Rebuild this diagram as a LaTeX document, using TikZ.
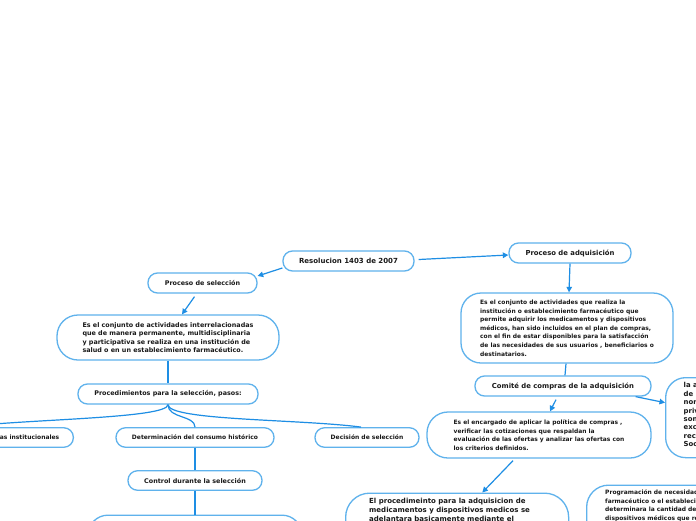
\documentclass[tikz,border=0pt]{standalone}
\usepackage{fontspec}
\setmainfont{DejaVu Sans}
\usetikzlibrary{arrows.meta}
\definecolor{boxblue}{RGB}{95,178,236}
\definecolor{lineblue}{RGB}{30,142,228}
\definecolor{txt}{RGB}{25,25,25}
\tikzset{
  pill/.style={draw=boxblue, line width=1.3pt, rounded corners=9.5pt, fill=white, inner sep=0pt,
    text=txt, font=\fontsize{6.4}{8}\selectfont\bfseries},
  bigbox/.style={draw=boxblue, line width=1.3pt, rounded corners=20pt, fill=white, inner sep=0pt,
    text=txt, font=\fontsize{6.4}{8.3}\selectfont\bfseries, align=left},
  smalldesc/.style={font=\fontsize{5.95}{8.6}\selectfont\bfseries},
  plaintext/.style={inner sep=0pt, text=txt, align=left, font=\fontsize{6.4}{8.3}\selectfont\bfseries},
  conn/.style={draw=lineblue, line width=1.2pt},
  arr/.style={conn, -{Triangle[length=5.5pt,width=5.5pt]}}
}
\begin{document}
\begin{tikzpicture}[x=1pt,y=-1pt]
\useasboundingbox (0,0) rectangle (696,520);
\clip (0,0) rectangle (696,520);
\fill[white] (0,0) rectangle (696,520);

% Left branch
\node[pill, minimum width=131pt, minimum height=20pt, font=\fontsize{7}{8}\selectfont\bfseries] (root) at (348.5,261) {Resolucion 1403 de 2007};
\node[pill, minimum width=109pt, minimum height=20pt] (sel) at (202.5,283) {Proceso de selección};
\node[bigbox, minimum width=222pt, minimum height=45pt, rounded corners=21pt] (desc1) at (168,337.5) {Es el conjunto de actividades interrelacionadas\\que de manera permanente, multidisciplinaria\\y participativa se realiza en una institución de\\salud o en un establecimiento farmacéutico.};
\node[pill, minimum width=180pt, minimum height=20pt] (proc) at (168,394) {Procedimientos para la selección, pasos:};
\node[pill, minimum width=160pt, minimum height=19.5pt, anchor=east] (pol) at (74,437.5) {};
\node[plaintext, anchor=east, font=\fontsize{6.0}{8}\selectfont\bfseries] (polt) at (59.5,437.5) {as institucionales};
\node[pill, minimum width=158pt, minimum height=19.5pt, font=\fontsize{6.0}{8}\selectfont\bfseries] (det) at (195,437.5) {Determinación del consumo histórico};
\node[pill, minimum width=104pt, minimum height=19.5pt, font=\fontsize{6.0}{8}\selectfont\bfseries] (dec) at (367,437.5) {Decisión de selección};
\node[pill, minimum width=134pt, minimum height=19.5pt] (ctrl) at (195,480.5) {Control durante la selección};
\node[bigbox, minimum width=214pt, minimum height=60pt, anchor=north] (bl) at (195,514.5) {};

% Right branch
\node[pill, minimum width=122pt, minimum height=20pt, font=\fontsize{6.85}{8}\selectfont\bfseries] (adq) at (570,253) {Proceso de adquisición};
\node[bigbox, smalldesc, minimum width=212pt, minimum height=70pt] (desc2) at (567,328) {Es el conjunto de actividades que realiza la\\institución o establecimiento farmacéutico que\\permite adquirir los medicamentos y dispositivos\\médicos, han sido incluidos en el plan de compras,\\con el fin de estar disponibles para la satisfacción\\de las necesidades de sus usuarios , beneficiarios o\\destinatarios.};
\node[pill, minimum width=176pt, minimum height=20pt, font=\fontsize{6.85}{8}\selectfont\bfseries] (com) at (563,386) {Comité de compras de la adquisición};
\node[bigbox, smalldesc, minimum width=224pt, minimum height=46pt, rounded corners=21pt] (enc) at (539,435) {Es el encargado de aplicar la política de compras ,\\verificar las cotizaciones que respaldan la\\evaluación de las ofertas y analizar las ofertas con\\los criterios definidos.};
\node[bigbox, minimum width=90pt, minimum height=80pt, anchor=north west] (rb) at (665,377) {};
\node[plaintext, anchor=north west, font=\fontsize{6.9}{8.4}\selectfont\bfseries] (rbt) at (683.5,382.5) {la a\\de\\nor\\priv\\son\\exc\\rec\\Soc};
\node[bigbox, minimum width=223pt, minimum height=60pt, rounded corners=24pt, anchor=north west] (pr2) at (345,492.5) {};
\node[plaintext, anchor=north west, font=\fontsize{7}{9}\selectfont\bfseries] (pr2t) at (369,497.5) {El procedimeinto para la adquisicion de\\medicamentos y dispositivos medicos se\\adelantara basicamente mediante el};
\node[bigbox, minimum width=140pt, minimum height=60pt, rounded corners=22pt, anchor=north west] (prog) at (586,484.5) {};
\node[plaintext, anchor=north west, font=\fontsize{5.95}{8.4}\selectfont\bfseries] (progt) at (605,490) {Programación de necesidad\\farmacéutico o el establecim\\determinara la cantidad de\\dispositivos médicos que re};

% Connectors
\draw[arr] ([xshift=4pt,yshift=1.5pt]root.east) -- ([yshift=-2pt]adq.west);
\draw[arr] ([yshift=-7pt]root.west) -- ([yshift=7pt]sel.east);
\draw[arr] ([xshift=-8pt,yshift=-3pt]sel.south) -- ([xshift=14pt]desc1.north);
\draw[conn] (desc1.south) -- (proc.south |- proc.north);
\draw[conn] (proc.south) .. controls +(0,14) and +(60,-8) .. ([xshift=-30pt]pol.north) ;
\draw[conn] (proc.south) .. controls +(0,14) and +(0,-12) .. (det.north);
\draw[conn] (proc.south) .. controls +(0,16) and +(-60,-8) .. ([xshift=-6pt]dec.north);
\draw[conn] (det.south) -- (ctrl.north);
\draw[conn] (ctrl.south) -- (bl.north);
\draw[arr] (adq.south) -- ([xshift=2pt]desc2.north);
\draw[conn] ([xshift=-1pt]desc2.south) -- ([xshift=2pt]com.north);
\draw[arr] ([xshift=-7pt,yshift=-3pt]com.south) -- ([xshift=11pt]enc.north);
\draw[arr] ([xshift=-16pt]com.south east) -- ([yshift=15pt]rb.west);
\draw[arr] ([xshift=-26pt,yshift=-2pt]enc.south) -- ([xshift=-87pt]pr2.north east);
\end{tikzpicture}
\end{document}
